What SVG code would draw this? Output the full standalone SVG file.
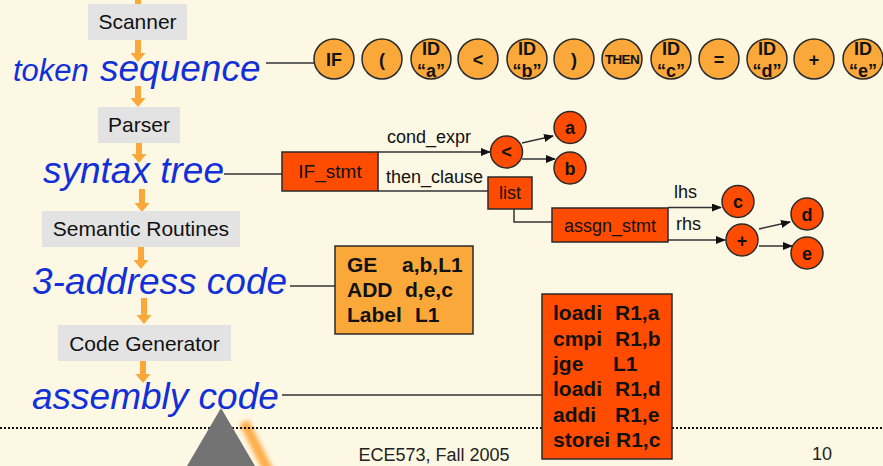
<svg xmlns="http://www.w3.org/2000/svg" width="883" height="466" viewBox="0 0 883 466">
<style>
.bg{fill:#FDF8E3}
.gbox{fill:#E3E3E3}
.gtxt{font-family:"Liberation Sans",Arial,sans-serif;font-size:21px;fill:#111;text-anchor:middle}
.blue{font-family:"Liberation Sans",Arial,sans-serif;font-style:italic;font-size:37px;fill:#1230D8}
.arr{fill:#FBA83B}
.tok{fill:#FBA83B;stroke:#2a2a2a;stroke-width:1.5}
.red{fill:#FF4C00;stroke:#2a2a2a;stroke-width:1.5}
.org{fill:#FBA83B;stroke:#2a2a2a;stroke-width:1.5}
.tt{font-family:"Liberation Sans",Arial,sans-serif;font-weight:bold;font-size:18px;fill:#111;text-anchor:middle}
.then{font-family:"Liberation Sans",Arial,sans-serif;font-weight:bold;font-size:13.5px;letter-spacing:-0.7px;fill:#111;text-anchor:middle}
.nt{font-family:"Liberation Sans",Arial,sans-serif;font-size:18px;fill:#111}
.ntc{font-family:"Liberation Sans",Arial,sans-serif;font-size:19px;fill:#111;text-anchor:middle}
.code{font-family:"Liberation Sans",Arial,sans-serif;font-weight:bold;font-size:21px;fill:#111}
.ln{stroke:#333;stroke-width:1.5;fill:none}
.foot{font-family:"Liberation Sans",Arial,sans-serif;font-size:18px;fill:#222;text-anchor:middle}
</style>
<defs>
<marker id="ah" markerWidth="10" markerHeight="8" refX="9" refY="4" orient="auto" markerUnits="userSpaceOnUse">
<path d="M0,0 L10,4 L0,8 z" fill="#111"/>
</marker>
<filter id="blur" x="-50%" y="-50%" width="200%" height="200%"><feGaussianBlur stdDeviation="2.2"/></filter>
</defs>
<rect class="bg" x="0" y="0" width="883" height="466"/>

<g id="flow-arrows">
<rect class="arr" x="135" y="0" width="6" height="4"/>
<polygon class="arr" points="135,39 141,39 141,53 145.5,53 138,62 130.5,53 135,53"/>
<polygon class="arr" points="135,86 141,86 141,98 145.5,98 138,107 130.5,98 135,98"/>
<polygon class="arr" points="136,143 142,143 142,154 146.5,154 139,163 131.5,154 136,154"/>
<polygon class="arr" points="139,189 145,189 145,203 149.5,203 142,212 134.5,203 139,203"/>
<polygon class="arr" points="138,247 144,247 144,260 148.5,260 141,269 133.5,260 138,260"/>
<polygon class="arr" points="141,298 147,298 147,315 151.5,315 144,324 136.5,315 141,315"/>
<polygon class="arr" points="140,361 146,361 146,374 150.5,374 143,383 135.5,374 140,374"/>
</g>

<g id="scanner"><rect class="gbox" x="88" y="4" width="99" height="36"/><text class="gtxt" x="137.5" y="29">Scanner</text></g>
<g id="token-sequence"><text class="blue" y="81"><tspan x="13" style="font-size:31px">token</tspan><tspan x="100">sequence</tspan></text></g>
<g id="parser"><rect class="gbox" x="98" y="107" width="82" height="36"/><text class="gtxt" x="139" y="132">Parser</text></g>
<g id="syntax-tree"><text class="blue" x="43" y="183">syntax tree</text></g>
<g id="semantic-routines"><rect class="gbox" x="42" y="211" width="198" height="36"/><text class="gtxt" x="141" y="236">Semantic Routines</text></g>
<g id="three-address-code"><text class="blue" x="32" y="294">3-address code</text></g>
<g id="code-generator"><rect class="gbox" x="58" y="325" width="173" height="36"/><text class="gtxt" x="144.5" y="351">Code Generator</text></g>
<g id="assembly-code"><text class="blue" x="32" y="409">assembly code</text></g>

<g id="connectors">
<path class="ln" d="M266,63 H314"/>
<path class="ln" d="M224,174 H282"/>
<path class="ln" d="M290,286 H335"/>
<path class="ln" d="M282,395 H542"/>
<path class="ln" d="M378,152 H490" marker-end="url(#ah)"/>
<path class="ln" d="M378,191 H488"/>
<path class="ln" d="M514,209 V222 H552"/>
<path class="ln" d="M522,143 L553,136" marker-end="url(#ah)"/>
<path class="ln" d="M522,159 H555" marker-end="url(#ah)"/>
<path class="ln" d="M668,207.5 H721" marker-end="url(#ah)"/>
<path class="ln" d="M668,240 H725" marker-end="url(#ah)"/>
<path class="ln" d="M759,229 L790,222" marker-end="url(#ah)"/>
<path class="ln" d="M759,246 H792" marker-end="url(#ah)"/>
</g>

<g id="tokens">
<g id="tok-if"><circle class="tok" cx="334" cy="59" r="20"/><text class="tt" x="334" y="66">IF</text></g>
<g id="tok-lparen"><circle class="tok" cx="382" cy="59" r="20"/><text class="tt" x="382" y="66">(</text></g>
<g id="tok-ida"><circle class="tok" cx="431" cy="59" r="20"/><text class="tt" x="431" y="55">ID</text><text class="tt" x="431" y="77">“a”</text></g>
<g id="tok-lt"><circle class="tok" cx="478" cy="59" r="20"/><text class="tt" x="478" y="66">&lt;</text></g>
<g id="tok-idb"><circle class="tok" cx="527" cy="59" r="20"/><text class="tt" x="527" y="55">ID</text><text class="tt" x="527" y="77">“b”</text></g>
<g id="tok-rparen"><circle class="tok" cx="574" cy="59" r="20"/><text class="tt" x="574" y="66">)</text></g>
<g id="tok-then"><circle class="tok" cx="622" cy="59" r="20"/><text class="then" x="622" y="64">THEN</text></g>
<g id="tok-idc"><circle class="tok" cx="671" cy="59" r="20"/><text class="tt" x="671" y="55">ID</text><text class="tt" x="671" y="77">“c”</text></g>
<g id="tok-eq"><circle class="tok" cx="719" cy="59" r="20"/><text class="tt" x="719" y="66">=</text></g>
<g id="tok-idd"><circle class="tok" cx="767" cy="59" r="20"/><text class="tt" x="767" y="55">ID</text><text class="tt" x="767" y="77">“d”</text></g>
<g id="tok-plus"><circle class="tok" cx="814" cy="59" r="20"/><text class="tt" x="814" y="66">+</text></g>
<g id="tok-ide"><circle class="tok" cx="863" cy="59" r="20"/><text class="tt" x="863" y="55">ID</text><text class="tt" x="863" y="77">“e”</text></g>
</g>

<g id="if-stmt"><rect class="red" x="282" y="152" width="96" height="39"/><text class="ntc" x="330" y="178">IF_stmt</text></g>
<g id="lbl-cond"><text class="nt" x="387" y="143">cond_expr</text></g>
<g id="lbl-then"><text class="nt" x="386" y="183">then_clause</text></g>
<g id="lt-node"><circle class="red" cx="506.5" cy="152" r="16"/><text class="tt" x="506.5" y="158">&lt;</text></g>
<g id="a-node"><circle class="red" cx="570" cy="127.5" r="16"/><text class="tt" x="570" y="134">a</text></g>
<g id="b-node"><circle class="red" cx="570" cy="168" r="16"/><text class="tt" x="570" y="174.5">b</text></g>
<g id="list"><rect class="red" x="488" y="177" width="44" height="32"/><text class="nt" x="510" y="199" text-anchor="middle">list</text></g>
<g id="assgn-stmt"><rect class="red" x="552" y="208" width="116" height="34"/><text class="nt" x="610" y="232" text-anchor="middle">assgn_stmt</text></g>
<g id="lbl-lhs"><text class="nt" x="674" y="198">lhs</text></g>
<g id="lbl-rhs"><text class="nt" x="676" y="230">rhs</text></g>
<g id="c-node"><circle class="red" cx="738" cy="201.5" r="16"/><text class="tt" x="738" y="208">c</text></g>
<g id="plus-node"><circle class="red" cx="742" cy="240" r="16"/><text class="tt" x="742" y="246.5">+</text></g>
<g id="d-node"><circle class="red" cx="807" cy="214" r="16"/><text class="tt" x="807" y="220.5">d</text></g>
<g id="e-node"><circle class="red" cx="807" cy="253" r="16"/><text class="tt" x="807" y="259.5">e</text></g>

<g id="tac-box"><rect class="org" x="335" y="246" width="138" height="88"/>
<text class="code" y="272"><tspan x="347">GE</tspan><tspan x="402">a,b,L1</tspan></text>
<text class="code" y="297"><tspan x="347">ADD</tspan><tspan x="405">d,e,c</tspan></text>
<text class="code" y="322"><tspan x="347">Label</tspan><tspan x="415">L1</tspan></text>
</g>

<g id="decor">
<line x1="244" y1="422" x2="269" y2="472" stroke="#FDAE4C" stroke-width="10" filter="url(#blur)"/>
<line x1="0" y1="428" x2="883" y2="428" stroke="#111" stroke-width="2" stroke-dasharray="2 2"/>
<polygon points="221,408 187,466 255,466" fill="#737373"/>
</g>

<g id="asm-box"><rect class="red" x="542" y="294" width="130" height="165"/>
<text class="code" y="320"><tspan x="553">loadi</tspan><tspan x="615">R1,a</tspan></text>
<text class="code" y="346"><tspan x="553">cmpi</tspan><tspan x="615">R1,b</tspan></text>
<text class="code" y="371"><tspan x="553">jge</tspan><tspan x="613">L1</tspan></text>
<text class="code" y="396"><tspan x="553">loadi</tspan><tspan x="615">R1,d</tspan></text>
<text class="code" y="422"><tspan x="553">addi</tspan><tspan x="615">R1,e</tspan></text>
<text class="code" y="447"><tspan x="553">storei</tspan><tspan x="616">R1,c</tspan></text>
</g>

<g id="footer">
<text class="foot" x="434" y="461">ECE573, Fall 2005</text>
<text class="foot" x="822" y="460">10</text>
</g>
</svg>
